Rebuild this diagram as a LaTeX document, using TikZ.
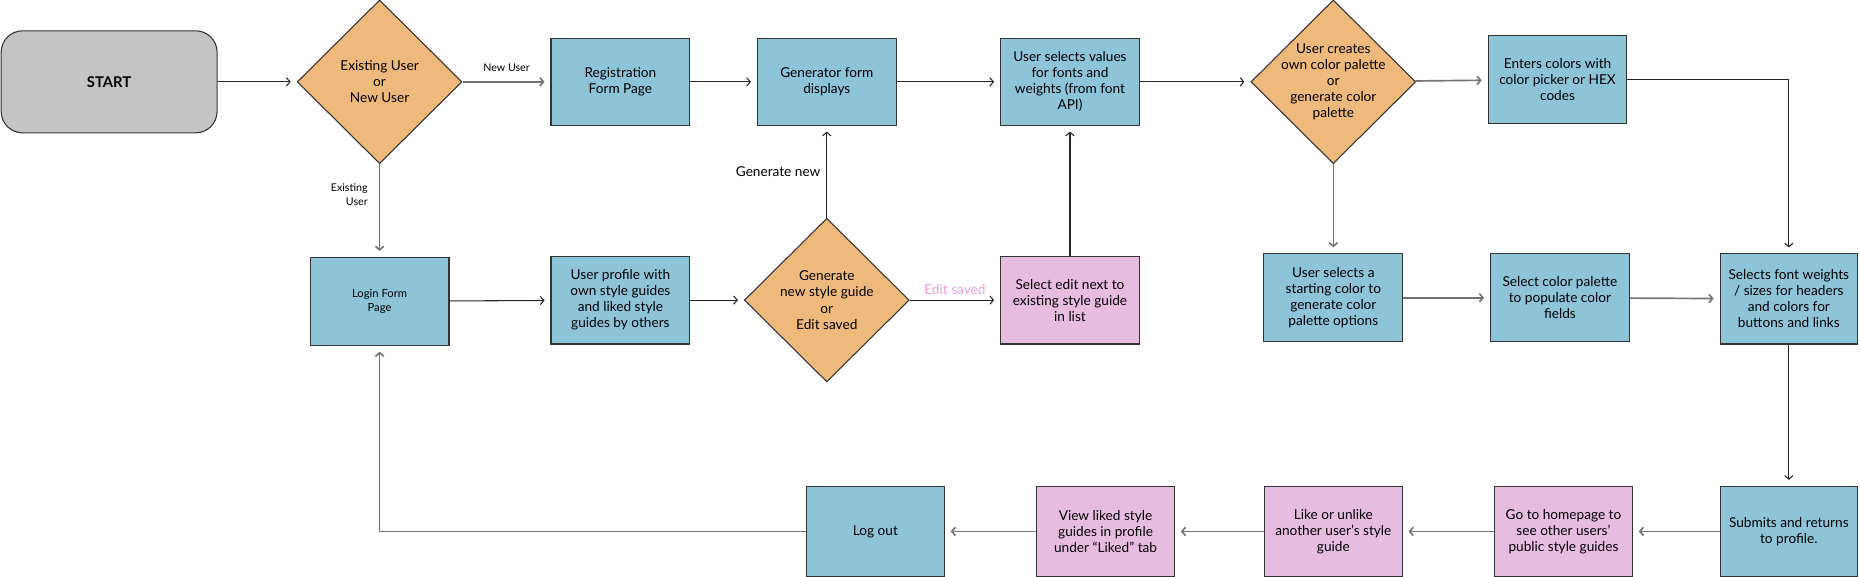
\documentclass[tikz,border=0pt]{standalone}
\usepackage{fontspec}
\setmainfont{Lato}
\usetikzlibrary{shapes.geometric,arrows.meta}

\definecolor{boxblue}{HTML}{8EC4D8}
\definecolor{boxorange}{HTML}{EEB97B}
\definecolor{boxpink}{HTML}{E7BCE1}
\definecolor{boxgrey}{HTML}{C4C4C4}
\definecolor{editpink}{HTML}{EA9FE3}
\definecolor{edgegrey}{HTML}{333333}

\tikzset{every picture/.style={line width=0.9pt}}
\tikzset{
  stepbox/.style={draw=edgegrey, fill=boxblue, minimum width=117pt, minimum height=74pt,
    align=center, inner sep=2pt, font=\fontsize{11.5}{13.5}\selectfont},
  pinkbox/.style={stepbox, fill=boxpink},
  decision/.style={diamond, aspect=1, draw=edgegrey, fill=boxorange,
    minimum width=139pt, minimum height=138pt, inner sep=0pt},
  inside/.style={align=center, inner sep=0pt, font=\fontsize{11.5}{13.5}\selectfont},
  link/.style={-{Straight Barb[length=3pt,width=7pt]}, shorten >=5pt, draw=black!85},
  greylink/.style={link, draw=black!55, line width=1.4pt},
  edgelabel/.style={font=\fontsize{9}{11.5}\selectfont, align=right},
}

\begin{document}
\begin{tikzpicture}[x=1pt, y=-1pt]
  \useasboundingbox (0,0) rectangle (1568,486);

  % Start and decisions
  \node[draw=edgegrey, fill=boxgrey, rounded corners=18pt, minimum width=182pt, minimum height=86pt,
    font=\bfseries\fontsize{12.5}{14}\selectfont] (start) at (92,69) {START};
  \node[decision, label={[inside]center:Existing User\\or\\New User}] (who) at (320,69) {};
  \node[decision, label={[inside]center:User creates\\own color palette\\or\\generate color\\palette}] (own) at (1124,69) {};
  \node[decision, label={[inside]center:Generate\\new style guide\\or\\Edit saved}] (gennew) at (697,253) {};

  % Top row
  \node[stepbox, minimum height=73pt] (reg) at (523,69) {Registration\\Form Page};
  \node[stepbox, minimum height=73pt] (gen) at (697,69) {Generator form\\displays};
  \node[stepbox, minimum height=73pt] (vals) at (902,69) {User selects values\\for fonts and\\weights (from font\\API)};
  \node[stepbox] (enters) at (1313,67) {Enters colors with\\color picker or HEX\\codes};

  % Middle row
  \node[stepbox, font=\fontsize{9.5}{12}\selectfont] (login) at (320,254) {Login Form\\Page};
  \node[stepbox] (prof) at (523,253) {User profile with\\own style guides\\and liked style\\guides by others};
  \node[pinkbox] (edit) at (902,253) {Select edit next to\\existing style guide\\in list};
  \node[stepbox] (pick) at (1124,251) {User selects a\\starting color to\\generate color\\palette options};
  \node[stepbox] (pal) at (1315,251) {Select color palette\\to populate color\\fields};
  \node[stepbox, minimum width=116pt, minimum height=76pt] (fontsel) at (1508,252) {Selects font weights\\/ sizes for headers\\and colors for\\buttons and links};

  % Bottom row
  \node[stepbox, minimum width=116pt, minimum height=76pt] (submit) at (1508,448) {Submits and returns\\to profile.};
  \node[pinkbox, minimum width=116pt, minimum height=76pt] (home) at (1318,448) {Go to homepage to\\see other users’\\public style guides};
  \node[pinkbox, minimum width=116pt, minimum height=76pt] (like) at (1124,448) {Like or unlike\\another user’s style\\guide};
  \node[pinkbox, minimum width=116pt, minimum height=76pt] (view) at (932,448) {View liked style\\guides in profile\\under “Liked” tab};
  \node[stepbox, minimum width=116pt, minimum height=76pt] (logout) at (738,448) {Log out};

  % Connectors
  \foreach \from/\to in {start/who, reg/gen, gen/vals, vals/own, login/prof, prof/gennew, edit/vals, fontsel/submit}
    \draw[link] (\from) -- (\to);
  \foreach \from/\to in {own/enters, own/pick, pick/pal, pal/fontsel, submit/home, home/like, like/view, view/logout}
    \draw[greylink] (\from) -- (\to);

  \draw[greylink] (who) -- node[above=5pt, edgelabel] {New User} (reg);
  \draw[greylink] (who) -- node[pos=0.33, left=6pt, edgelabel] {Existing\\User} (login);
  \draw[link] (gennew) -- node[left=5pt, inside] {Generate new} (gen);
  \draw[link] (gennew) -- node[above=4pt, inside, text=editpink] {Edit saved} (edit);
  \draw[link] (enters.east) -| (fontsel.north);
  \draw[greylink] (logout.west) -| (login.south);
\end{tikzpicture}
\end{document}
